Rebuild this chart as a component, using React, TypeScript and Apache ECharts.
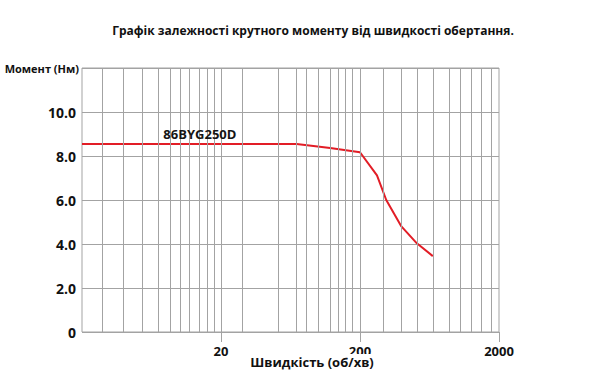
import React, { useEffect, useRef } from "react";
import * as echarts from "echarts";

const TITLE = "Графік залежності крутного моменту від швидкості обертання.";
const X_NAME = "Швидкість (об/хв)";
const Y_NAME = "Момент (Нм)";
const SERIES_NAME = "86BYG250D";

// speed (rpm) and torque (N·m)
const speed = [2, 70, 122, 200, 265, 309, 397, 513, 668];
const torque = [8.55, 8.55, 8.36, 8.17, 7.12, 6.0, 4.8, 4.03, 3.45];

// vertical grid lines of the printed chart (rpm)
const gridSpeeds = [
  2.78, 3.98, 5.39, 7.11, 8.61, 10.2, 11.9, 13.9, 16.0, 17.9, 20,
  28.4, 51.5, 69.4, 81.5, 100.4, 121.8, 140.6, 156.9, 175.2, 200,
  292.6, 396.6, 519, 673, 871, 1045, 1253, 1486, 1762,
];

const xTickLabels = [20, 200, 2000];
const yTicks = [0, 2, 4, 6, 8, 10, 12];

const GRAY = "#a3a3a3";
const RED = "#e21d26";
const FONT = "Open Sans";

export default function App() {
  const ref = useRef<HTMLDivElement>(null);
  useEffect(() => {
    if (!ref.current) return;
    const chart = echarts.init(ref.current, undefined, { renderer: "svg" });
    chart.setOption({
      animation: false,
      backgroundColor: "#ffffff",
      title: [
        {
          text: TITLE,
          left: 308,
          textAlign: "center",
          top: 19,
          textStyle: { fontFamily: FONT, fontWeight: "bold", fontSize: 12, color: "#111" },
        },
        {
          text: X_NAME,
          left: 308,
          textAlign: "center",
          top: 354,
          padding: [1, 4, 0, 4],
          backgroundColor: "#ffffff",
          textStyle: { fontFamily: FONT, fontWeight: "bold", fontSize: 13, color: "#111" },
        },
      ],
      grid: {
        left: 82,
        right: 116,
        top: 68,
        bottom: 40,
        show: true,
        borderColor: GRAY,
        borderWidth: 1,
        outerBoundsMode: "none",
      },
      xAxis: {
        type: "log",
        logBase: 10,
        min: 2,
        max: 2000,
        axisLine: { show: false },
        axisTick: {
          show: true,
          customValues: xTickLabels,
          length: 10,
          lineStyle: { color: GRAY, width: 1 },
        },
        axisLabel: {
          customValues: xTickLabels,
          margin: 12,
          fontFamily: FONT,
          fontWeight: "bold",
          fontSize: 13,
          color: "#111",
          formatter: (v: number) => String(v),
        },
        splitLine: { show: false },
        minorSplitLine: { show: false },
      },
      yAxis: {
        type: "value",
        min: 0,
        max: 12,
        interval: 2,
        axisLine: { show: false },
        axisTick: { show: false },
        axisLabel: {
          customValues: yTicks,
          margin: 6,
          fontFamily: FONT,
          fontWeight: "bold",
          fontSize: 14,
          color: "#111",
          formatter: (v: number) =>
            v === 12 ? "{n|" + Y_NAME + "}" : v === 0 ? "0" : v.toFixed(1),
          rich: {
            n: { fontFamily: FONT, fontWeight: "bold", fontSize: 11, color: "#111", padding: [0, -3, 0, 0] },
          },
        },
        splitLine: { show: true, lineStyle: { color: GRAY, width: 1 } },
      },
      series: [
        {
          type: "line",
          data: [],
          z: 1,
          silent: true,
          markLine: {
            silent: true,
            symbol: ["none", "none"],
            label: { show: false },
            lineStyle: { color: GRAY, width: 1, type: "solid" },
            data: gridSpeeds.map((v) => ({ xAxis: v })),
          },
        },
        {
          name: SERIES_NAME,
          type: "line",
          z: 3,
          symbol: "none",
          smooth: false,
          lineStyle: { color: RED, width: 2 },
          data: speed.map((s, i) => [s, torque[i]]),
          markPoint: {
            symbol: "circle",
            symbolSize: 0,
            label: {
              show: true,
              formatter: SERIES_NAME,
              fontFamily: FONT,
              fontWeight: "bold",
              fontSize: 13,
              color: "#151515",
            },
            data: [{ coord: [14.1, 9.0] }],
          },
        },
      ],
    });
    return () => chart.dispose();
  }, []);
  return (
    <div
      ref={ref}
      style={{ position: "fixed", left: 0, top: 0, width: 615, height: 372 }}
    />
  );
}
